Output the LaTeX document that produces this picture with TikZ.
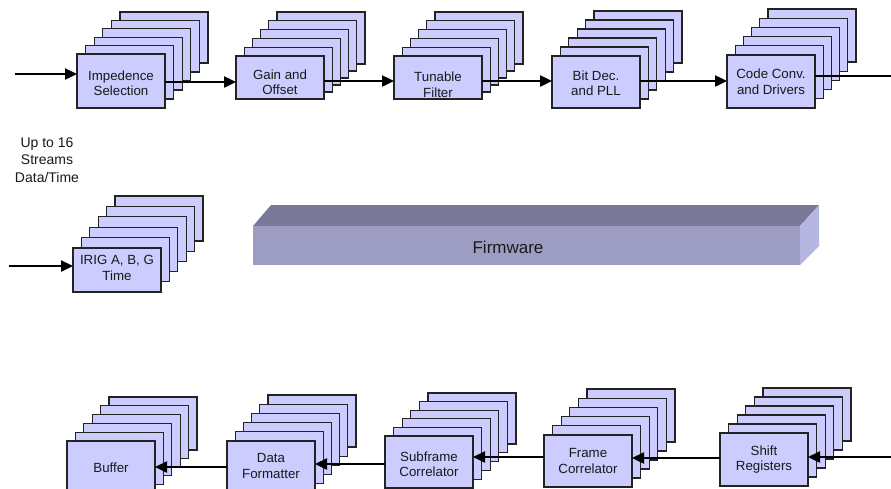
\documentclass[tikz,border=0pt]{standalone}
\usepackage{fontspec}
\setmainfont{Liberation Sans}
\usetikzlibrary{arrows.meta,calc}
\definecolor{boxfill}{RGB}{204,204,255}
\definecolor{boxline}{RGB}{35,35,35}
\definecolor{fwfront}{RGB}{157,157,196}
\definecolor{fwtop}{RGB}{122,122,152}
\definecolor{fwside}{RGB}{182,182,226}
\definecolor{txt}{RGB}{25,25,25}
\tikzset{
  layer/.style={fill=boxfill, draw=boxline, line width=1.3pt},
  frontbox/.style={layer, inner sep=0pt, outer sep=0pt, minimum width=88pt},
  boxtext/.style={align=center, inner sep=0pt, text=txt, font=\fontsize{13.3}{15.5}\selectfont},
  sidetext/.style={align=center, inner sep=0pt, text=txt, font=\fontsize{14}{17.5}\selectfont},
  arr/.style={line width=2.4pt, -{Triangle[length=12pt,width=11pt]}},
  plainline/.style={line width=2.4pt},
}
\newcommand\mystack[9]{%
  \foreach \i in {0,...,4}{%
    \pgfmathsetmacro\lx{#5+(#2-#5)*\i/5}%
    \pgfmathsetmacro\ly{#6+(#3-#6)*\i/5}%
    \pgfmathsetmacro\lh{#7+(#4-#7)*\i/5}%
    \draw[layer] (\lx,\ly) rectangle ++(88,\lh);
  }%
  \node[frontbox, minimum height=#4pt, anchor=north west] (#1) at (#2,#3) {};
  \node[boxtext] (#1t) at (#2+44,#3+#4/2+#9) {#8};
}
\begin{document}
\begin{tikzpicture}[x=1pt,y=-1pt]
\useasboundingbox (0,0) rectangle (891,488);
\fill[white] (0,0) rectangle (891,488);
\clip (0,0) rectangle (891,488);

% firmware bar
\fill[fwtop] (253,226) -- (271,205) -- (819,205) -- (800,226) -- cycle;
\fill[fwside] (800,226) -- (819,205) -- (819,246) -- (800,265) -- cycle;
\node[fill=fwfront, minimum width=547pt, minimum height=39pt, anchor=north west, inner sep=0pt] (fw) at (253,226) {};
\node[inner sep=0pt, text=txt, font=\fontsize{17}{20}\selectfont] (fwt) at (508,247) {Firmware};

% side note
\node[sidetext] (note) at (47,160) {Up to 16\\Streams\\Data/Time};

% stacks
\mystack{imp}{77}{54}{54}{120}{12}{51}{Impedence\\Selection}{2}
\mystack{gain}{236}{56}{43}{277}{12}{52}{Gain and\\Offset}{4.5}
\mystack{tun}{394}{56}{43}{435}{12}{52}{Tunable\\Filter}{7}
\mystack{bit}{552}{56}{52}{594}{11}{52}{Bit Dec.\\and PLL}{1}
\mystack{code}{727}{55}{53}{768}{9}{53}{Code Conv.\\and Drivers}{0}
\mystack{irig}{73}{248}{44}{115}{196}{45}{IRIG A, B, G\\Time}{-2}
\mystack{buf}{67}{441}{52}{109}{397}{53}{Buffer}{1}
\mystack{fmt}{227}{441}{52}{268}{395}{52}{Data\\Formatter}{-1}
\mystack{sub}{385}{436}{52}{428}{393}{51}{Subframe\\Correlator}{2}
\mystack{frm}{544}{435}{52}{587}{389}{53}{Frame\\Correlator}{0}
\mystack{shf}{720}{433}{53}{763}{388}{53}{Shift\\Registers}{0}

% connectors, top row
\coordinate (in1) at (15,74);
\draw[arr] (in1) -- (in1 -| imp.west);
\coordinate (a1) at ([yshift=-1pt]imp.east);
\draw[arr] (a1) -- (a1 -| gain.west);
\coordinate (a2) at ([yshift=-3.5pt]gain.east);
\draw[arr] (a2) -- (a2 -| tun.west);
\coordinate (a3) at ([yshift=-3.5pt]tun.east);
\draw[arr] (a3) -- (a3 -| bit.west);
\coordinate (a4) at ([yshift=1pt]bit.east);
\draw[arr] (a4) -- (a4 -| code.west);
\coordinate (a5) at ([yshift=5.5pt]code.east);
\coordinate (out1) at (891,76);
\draw[plainline] (a5) -- (out1);

% IRIG input
\coordinate (in2) at (9,266);
\draw[arr] (in2) -- (in2 -| irig.west);

% bottom row
\coordinate (in3) at (891,457);
\draw[arr] (in3) -- (in3 -| shf.east);
\coordinate (b1) at ([yshift=1.5pt]shf.west);
\draw[arr] (b1) -- (b1 -| frm.east);
\coordinate (b2) at ([yshift=4pt]frm.west);
\draw[arr] (b2) -- (b2 -| sub.east);
\coordinate (b3) at ([yshift=-2pt]sub.west);
\draw[arr] (b3) -- (b3 -| fmt.east);
\coordinate (b4) at (fmt.west);
\draw[arr] (b4) -- (b4 -| buf.east);
\end{tikzpicture}
\end{document}
